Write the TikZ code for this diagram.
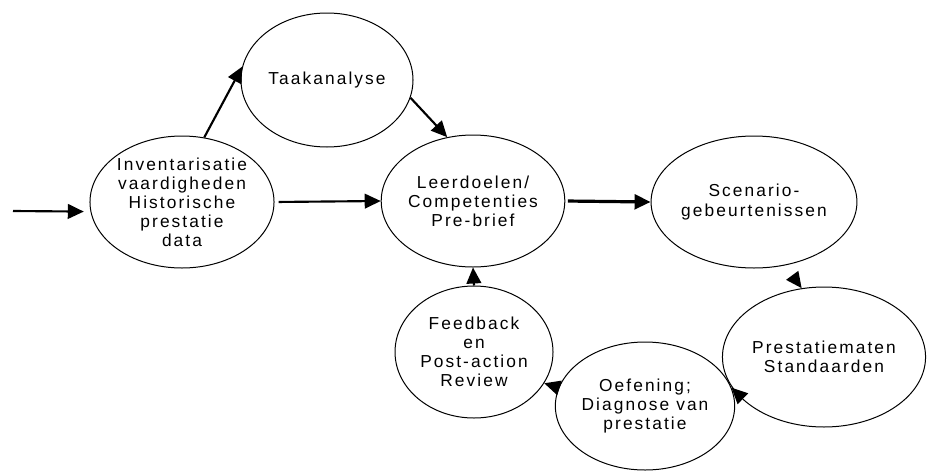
\documentclass[tikz,border=0pt]{standalone}
\usepackage{fontspec}
\setmainfont{Liberation Sans}[LetterSpace=12]
\usetikzlibrary{shapes.geometric,arrows.meta}

\begin{document}
\begin{tikzpicture}[x=0.75pt, y=-0.75pt,
  stap/.style 2 args={ellipse, draw, line width=0.75pt, inner sep=0pt, align=center,
    minimum width=#1*0.75pt, minimum height=#2*0.75pt,
    font=\fontsize{13}{14.3}\selectfont},
  pijl/.style={line width=1.6pt, -{Triangle[length=12pt, width=11pt]}}]
  \useasboundingbox (0, 0) rectangle (937, 471);

  %% stappen in de cyclus
  \node[stap={172}{134}] (taak) at (327, 80) {Taakanalyse};
  \node[stap={170}{132}] (inv) at (182, 202)
    {Inventarisatie\\vaardigheden\\Historische\\prestatie\\data};
  \node[stap={160}{132}] (leer) at (473, 201)
    {Leerdoelen/\\Competenties\\Pre-brief};
  \node[stap={162}{132}] (scen) at (754, 202)
    {Scenario-\\gebeurtenissen};
  \node[stap={158}{140}] (prest) at (824, 357)
    {Prestatiematen\\Standaarden};
  \node[stap={162}{128}] (oef) at (645, 406)
    {Oefening;\\Diagnose van\\prestatie};
  \node[stap={158}{132}] (feed) at (474, 352)
    {Feedback\\en\\Post-action\\Review};

  %% ingang
  \coordinate (in) at (13, 211);

  %% pijlen
  \draw[pijl, shorten >=5pt] (in) -- (inv.186);
  \draw[pijl] (inv.71) -- (taak.171);
  \draw[pijl] (taak.-12) -- (leer.112);
  \draw[pijl, shorten <=3pt] (inv.east) -- (leer.west);
  \draw[pijl, line width=2.4pt, shorten <=2pt] (leer.east) -- (scen.west);
  \draw[pijl, shorten <=10pt] (scen.-64) -- (prest.108);
  \draw[pijl] (prest.200) -- (oef.12);
  \draw[pijl] (oef.168) -- (feed.-24);
  \draw[pijl] (feed.north) -- (leer.south);
\end{tikzpicture}
\end{document}
